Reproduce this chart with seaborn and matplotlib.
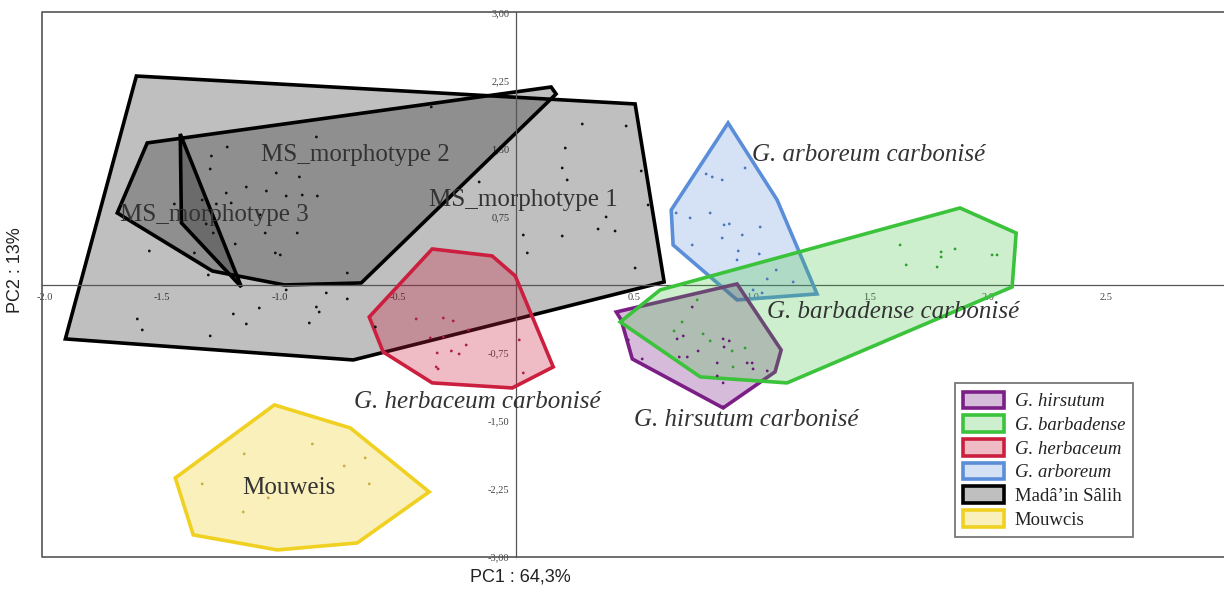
import numpy as np
import pandas as pd
import matplotlib
matplotlib.use("Agg")
import matplotlib.pyplot as plt
from matplotlib.patches import Patch
import seaborn as sns

# ---- data: convex hulls (PC1, PC2) ----
ms1_x = [-1.610, 0.504, 0.627, -0.691, -1.911]
ms1_y = [2.304, 1.996, 0.033, -0.827, -0.595]
ms2_x = [-1.564, 0.148, 0.169, -0.657, -0.983, -1.288, -1.691]
ms2_y = [1.566, 2.183, 2.106, 0.022, 0.000, 0.154, 0.794]
ms3_x = [-1.424, -1.165, -1.419]
ms3_y = [1.665, -0.022, 0.684]
herb_x = [-0.356, -0.102, -0.004, 0.157, -0.017, -0.356, -0.564, -0.623]
herb_y = [0.397, 0.320, 0.099, -0.904, -1.136, -1.080, -0.739, -0.353]
mouw_x = [-1.025, -0.703, -0.369, -0.674, -1.013, -1.369, -1.445]
mouw_y = [-1.323, -1.577, -2.282, -2.845, -2.922, -2.756, -2.128]
arbo_x = [0.898, 1.106, 1.275, 0.936, 0.665, 0.657]
arbo_y = [1.786, 0.937, -0.099, -0.165, 0.441, 0.827]
barb_x = [1.881, 2.119, 2.102, 1.148, 0.780, 0.441, 0.610]
barb_y = [0.849, 0.573, -0.022, -1.080, -1.014, -0.408, -0.055]
hirs_x = [0.424, 0.936, 1.123, 1.097, 0.877, 0.492, 0.445]
hirs_y = [-0.298, 0.011, -0.717, -0.959, -1.356, -0.816, -0.386]

# ---- individual specimens ----
ms_pts_x = [-0.847, -1.225, -1.292, -1.297, -1.017, -0.919, -1.144, -1.059, -1.229, -0.975,
            -0.907, -0.843, -1.449, -1.331, -1.271, -1.208, -1.085, -1.314, -1.284, -1.064,
            -0.928, -1.191, -1.555, -1.364, -1.021, -1.000, -1.305, -0.975, -0.805, -0.360,
            -0.157, -0.716, 0.280, 0.466, 0.208, 0.195, 0.216, 0.530, 0.559, 0.381,
            0.347, 0.419, 0.030, 0.195, 0.047, 0.504, -0.716, -0.847, -0.835, -1.089,
            -1.199, -1.144, -0.877, -1.606, -1.585, -1.297, -0.597]
ms_pts_y = [1.632, 1.521, 1.422, 1.279, 1.235, 1.191, 1.080, 1.036, 1.014, 0.981,
            0.992, 0.981, 0.893, 0.937, 0.893, 0.904, 0.772, 0.673, 0.573, 0.573,
            0.573, 0.452, 0.375, 0.353, 0.353, 0.331, 0.110, -0.055, -0.088, 1.963,
            1.136, 0.132, 1.775, 1.753, 1.510, 1.290, 1.158, 1.257, 0.882, 0.750,
            0.617, 0.595, 0.551, 0.540, 0.353, 0.187, -0.154, -0.243, -0.298, -0.254,
            -0.320, -0.430, -0.419, -0.375, -0.496, -0.562, -0.463]
herb_pts_x = [-0.424, -0.309, -0.267, -0.203, -0.364, -0.309, -0.212, -0.335, -0.275, -0.242,
              -0.339, -0.331, 0.013, 0.030]
herb_pts_y = [-0.375, -0.364, -0.397, -0.496, -0.584, -0.573, -0.662, -0.750, -0.728, -0.761,
              -0.904, -0.926, -0.606, -0.970]
arbo_pts_x = [0.970, 0.805, 0.831, 0.873, 0.678, 0.737, 0.822, 0.881, 0.903, 1.034,
              0.873, 0.958, 0.746, 0.941, 1.030, 0.936, 1.102, 1.064, 1.174, 1.004, 1.042]
arbo_pts_y = [1.290, 1.224, 1.191, 1.158, 0.794, 0.739, 0.794, 0.662, 0.673, 0.639,
              0.518, 0.551, 0.441, 0.375, 0.342, 0.276, 0.165, 0.066, 0.033, -0.055, -0.088]
barb_pts_x = [1.627, 1.801, 1.801, 1.860, 1.653, 1.784, 2.017, 2.038,
              0.767, 0.703, 0.669, 0.792, 0.822, 0.915, 0.970, 0.919]
barb_pts_y = [0.441, 0.364, 0.309, 0.397, 0.221, 0.198, 0.331, 0.331,
              -0.165, -0.408, -0.507, -0.540, -0.617, -0.728, -0.695, -0.904]
hirs_pts_x = [0.746, 0.682, 0.708, 0.877, 0.903, 0.881, 0.771, 0.691, 0.725, 0.852,
              0.979, 1.000, 1.004, 0.534, 0.852, 0.877, 1.064, 0.475, 0.877]
hirs_pts_y = [-0.243, -0.595, -0.562, -0.595, -0.617, -0.684, -0.728, -0.794, -0.794, -0.860,
              -0.860, -0.860, -0.926, -0.816, -1.003, -1.080, -0.948, -0.606, -1.345]
mouw_pts_x = [-0.864, -1.153, -0.640, -0.729, -1.331, -0.623, -1.051, -1.157]
mouw_pts_y = [-1.753, -1.863, -1.907, -1.996, -2.194, -2.194, -2.348, -2.503]

# ---- labels ----
legend_labels = ["G. hirsutum", "G. barbadense", "G. herbaceum", "G. arboreum",
                 "Madâ’in Sâlih", "Mouwcis"]
group_labels = ["MS_morphotype 1", "MS_morphotype 2", "MS_morphotype 3",
                "G. arboreum carbonisé", "G. barbadense carbonisé",
                "G. herbaceum carbonisé", "G. hirsutum carbonisé", "Mouweis"]
xticks = [-2.0, -1.5, -1.0, -0.5, 0.5, 1.0, 1.5, 2.0, 2.5]
xtick_labels = ["-2.0", "-1.5", "-1.0", "-0.5", "0.5", "1.0", "1.5", "2.0", "2.5"]
yticks = [-3.0, -2.25, -1.5, -0.75, 0.75, 1.5, 2.25, 3.0]
ytick_labels = ["-3,00", "-2,25", "-1,50", "-0,75", "0,75", "1,50", "2,25", "3,00"]

colors = {
    "hirs": "#7b1f87",
    "barb": "#3cc33c",
    "herb": "#cc1f3f",
    "arbo": "#5b8ed8",
    "ms": "#000000",
    "mouw": "#f0d020",
}
face_alpha = {"hirs": 0.3, "barb": 0.25, "herb": 0.3, "arbo": 0.25, "ms": 0.25, "mouw": 0.3}

sns.set_style("white")
plt.rcParams["font.family"] = ["Liberation Serif", "DejaVu Serif"]

fig = plt.figure(figsize=(12.24, 5.89), dpi=100)
ax = fig.add_axes([42 / 1224, 32 / 589, 1182 / 1224, 545 / 589])
ax.set_xlim(-2.01, 3.0)
ax.set_ylim(-3.0, 3.01)


def hull(xs, ys, key, z):
    ax.fill(xs, ys, facecolor=colors[key], alpha=face_alpha[key], edgecolor="none", zorder=z)
    ax.fill(xs, ys, facecolor="none", edgecolor=colors[key], linewidth=2.6,
            joinstyle="miter", zorder=z + 0.1)


hull(ms1_x, ms1_y, "ms", 2)
hull(ms2_x, ms2_y, "ms", 2.2)
hull(ms3_x, ms3_y, "ms", 2.4)
hull(mouw_x, mouw_y, "mouw", 3)
hull(herb_x, herb_y, "herb", 3.2)
hull(arbo_x, arbo_y, "arbo", 3.4)
hull(hirs_x, hirs_y, "hirs", 3.6)
hull(barb_x, barb_y, "barb", 3.8)

# points through seaborn
pts = pd.concat([
    pd.DataFrame({"PC1": ms_pts_x, "PC2": ms_pts_y, "grp": "ms"}),
    pd.DataFrame({"PC1": herb_pts_x, "PC2": herb_pts_y, "grp": "herb"}),
    pd.DataFrame({"PC1": arbo_pts_x, "PC2": arbo_pts_y, "grp": "arbo"}),
    pd.DataFrame({"PC1": barb_pts_x, "PC2": barb_pts_y, "grp": "barb"}),
    pd.DataFrame({"PC1": hirs_pts_x, "PC2": hirs_pts_y, "grp": "hirs"}),
    pd.DataFrame({"PC1": mouw_pts_x, "PC2": mouw_pts_y, "grp": "mouw"}),
], ignore_index=True)
dot_pal = {"ms": "#111111", "herb": "#b0203c", "arbo": "#4a78c0", "barb": "#2fa02f",
           "hirs": "#6a1a78", "mouw": "#c8b040"}
sns.scatterplot(data=pts, x="PC1", y="PC2", hue="grp", palette=dot_pal, s=4,
                linewidth=0, legend=False, ax=ax, zorder=5)

# group annotations
txt_kw = dict(fontsize=18, color="#333333", zorder=6)
ax.text(0.030, 0.937, group_labels[0], ha="center", va="center", **txt_kw)
ax.text(-0.682, 1.433, group_labels[1], ha="center", va="center", **txt_kw)
ax.text(-1.280, 0.772, group_labels[2], ha="center", va="center", **txt_kw)
ax.text(1.000, 1.433, group_labels[3], ha="left", va="center", style="italic", **txt_kw)
ax.text(1.064, -0.298, group_labels[4], ha="left", va="center", style="italic", **txt_kw)
ax.text(-0.686, -1.290, group_labels[5], ha="left", va="center", style="italic", **txt_kw)
ax.text(0.500, -1.488, group_labels[6], ha="left", va="center", style="italic", **txt_kw)
ax.text(-0.962, -2.238, group_labels[7], ha="center", va="center", **txt_kw)

# axes through the origin + open frame
for s in ["top", "right"]:
    ax.spines[s].set_visible(False)
ax.spines["left"].set_position(("data", 0))
ax.spines["bottom"].set_position(("data", 0))
ax.spines["left"].set_color("#555555")
ax.spines["bottom"].set_color("#555555")
ax.spines["left"].set_linewidth(0.9)
ax.spines["bottom"].set_linewidth(0.9)
ax.plot([1, 0, 0, 1], [1, 1, 0, 0], transform=ax.transAxes, color="#555555",
        lw=1.2, clip_on=False, zorder=1)

ax.set_xticks(xticks, labels=xtick_labels)
ax.set_yticks(yticks, labels=ytick_labels)
ax.tick_params(axis="x", direction="out", length=3, width=0.8, pad=3,
               labelsize=7.5, colors="#444444")
ax.tick_params(axis="y", direction="out", length=4, width=0.8, pad=1,
               labelsize=7.5, colors="#444444")
ax.set_xlabel("")
ax.set_ylabel("")

fig.text(16 / 1224, 1 - 270 / 589, "PC2 : 13%", rotation=90, ha="center", va="center",
         fontsize=13, family="Liberation Sans", color="#222222")
fig.text(520 / 1224, 1 - 577 / 589, "PC1 : 64,3%", ha="center", va="center",
         fontsize=13, family="Liberation Sans", color="#222222")

# legend
keys = ["hirs", "barb", "herb", "arbo", "ms", "mouw"]
handles = []
for k in keys:
    fc = matplotlib.colors.to_rgba(colors[k], face_alpha[k])
    handles.append(Patch(facecolor=fc, edgecolor=colors[k], linewidth=2.6))
leg = ax.legend(handles, legend_labels, loc="upper left", bbox_to_anchor=(0.772, 0.319),
                borderaxespad=0, fontsize=13.5, handlelength=2.2, handleheight=1.0,
                labelspacing=0.26, handletextpad=0.55, borderpad=0.45, fancybox=False,
                framealpha=1, edgecolor="#777777")
leg.get_frame().set_linewidth(1.3)
for t in leg.get_texts()[:4]:
    t.set_fontstyle("italic")
for t in leg.get_texts():
    t.set_color("#222222")

fig.savefig("out.png", dpi=100)
